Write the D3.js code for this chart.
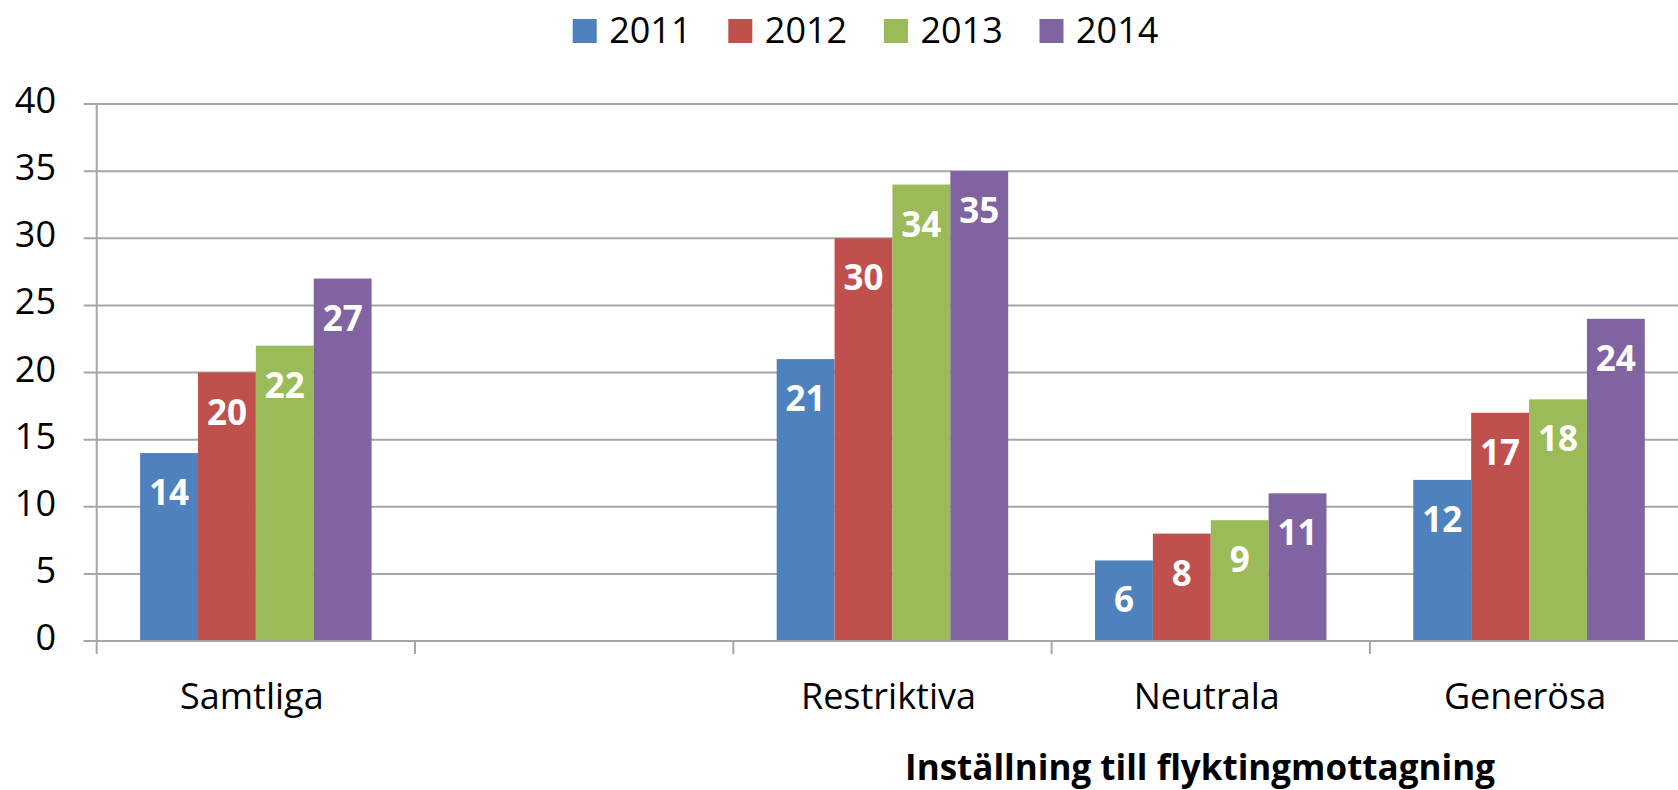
<!DOCTYPE html>
<html>
<head>
<meta charset="utf-8">
<script src="https://cdn.jsdelivr.net/npm/d3@7"></script>
<style>
  body { margin: 0; background: #fff; }
  text { font-family: "Open Sans", sans-serif; }
</style>
</head>
<body>
<div id="chart"></div>
<script>
// DATA
const categories = ["Samtliga", "", "Restriktiva", "Neutrala", "Generösa"];
const years = ["2011", "2012", "2013", "2014"];
const v2011 = [14, null, 21, 6, 12];
const v2012 = [20, null, 30, 8, 17];
const v2013 = [22, null, 34, 9, 18];
const v2014 = [27, null, 35, 11, 24];
const yTicks = [0, 5, 10, 15, 20, 25, 30, 35, 40];
const colors = ["#4f81bd", "#c0504d", "#9bbb59", "#8064a2"];
const axisTitle = "Inställning till flyktingmottagning";

const seriesValues = [v2011, v2012, v2013, v2014];

// rows: one per category, one entry per year
const rows = categories.map((c, i) => ({
    cat: c,
    vals: years.map((y, j) => ({year: y, value: seriesValues[j][i], color: colors[j]}))
}));

/***** BASIC SETUP *****/
const width = 1678;
const height = 790;
const margin = {top: 104, left: 96.7, bottom: 149};

const svg = d3.select("#chart")
    .append("svg")
    .attr("width", width)
    .attr("height", height);

const catWidth = 318.3;

/***** SCALES *****/
const x = d3.scaleBand()
    .domain(categories.map((c, i) => i))
    .range([margin.left, margin.left + catWidth * categories.length]);

// gap width 150% of a bar -> bars take 4/(4+1.5) of the band
const xInner = d3.scaleBand()
    .domain(years)
    .range([catWidth * 1.5 / 11, catWidth - catWidth * 1.5 / 11]);

const y = d3.scaleLinear()
    .domain([0, 40])
    .range([641, 104]);

const gridColor = "#a6a6a6";

/***** GRID + AXES *****/
svg.append("g")
    .selectAll("line")
    .data(yTicks)
    .join("line")
    .attr("x1", margin.left - 13)
    .attr("x2", width)
    .attr("y1", d => y(d))
    .attr("y2", d => y(d))
    .attr("stroke", gridColor)
    .attr("stroke-width", 2);

svg.append("g")
    .selectAll("text")
    .data(yTicks)
    .join("text")
    .attr("x", 56)
    .attr("y", d => y(d) + 9)
    .attr("text-anchor", "end")
    .attr("font-size", 36)
    .attr("fill", "#000")
    .text(d => d);

// y axis line
svg.append("line")
    .attr("x1", margin.left).attr("x2", margin.left)
    .attr("y1", y(40)).attr("y2", y(0) + 13)
    .attr("stroke", gridColor)
    .attr("stroke-width", 2);

// category boundary ticks
svg.append("g")
    .selectAll("line")
    .data(categories.slice(1).map((c, i) => i + 1))
    .join("line")
    .attr("x1", d => x(d)).attr("x2", d => x(d))
    .attr("y1", y(0)).attr("y2", y(0) + 13)
    .attr("stroke", gridColor)
    .attr("stroke-width", 2);

/***** BARS *****/
const groups = svg.append("g")
    .selectAll("g")
    .data(rows.map((r, i) => ({...r, idx: i})))
    .join("g")
    .attr("transform", d => `translate(${x(d.idx)},0)`);

const valid = d => d.vals.filter(v => v.value != null);

groups.selectAll("rect")
    .data(valid)
    .join("rect")
    .attr("x", d => xInner(d.year))
    .attr("width", xInner.bandwidth())
    .attr("y", d => y(d.value))
    .attr("height", d => y(0) - y(d.value))
    .attr("fill", d => d.color);

groups.selectAll("text.lbl")
    .data(valid)
    .join("text")
    .attr("class", "lbl")
    .attr("x", d => xInner(d.year) + xInner.bandwidth() / 2)
    .attr("y", d => y(d.value) + 52)
    .attr("text-anchor", "middle")
    .attr("font-size", 35)
    .attr("font-weight", "bold")
    .attr("fill", "#fff")
    .text(d => d.value);

// baseline on top of bars
svg.append("line")
    .attr("x1", margin.left - 13).attr("x2", width)
    .attr("y1", y(0)).attr("y2", y(0))
    .attr("stroke", gridColor)
    .attr("stroke-width", 2);

/***** CATEGORY LABELS *****/
svg.append("g")
    .selectAll("text")
    .data(categories.map((c, i) => ({c, i})))
    .join("text")
    .attr("x", d => x(d.i) + catWidth / 2 - 4)
    .attr("y", 709)
    .attr("text-anchor", "middle")
    .attr("font-size", 36)
    .attr("fill", "#000")
    .text(d => d.c);

svg.append("text")
    .attr("x", 1200)
    .attr("y", 780)
    .attr("text-anchor", "middle")
    .attr("font-size", 35)
    .attr("font-weight", "bold")
    .attr("fill", "#000")
    .text(axisTitle);

/***** LEGEND *****/
const legend = svg.append("g")
    .selectAll("g")
    .data(years)
    .join("g")
    .attr("transform", (d, i) => `translate(${572.7 + i * 155.6},19)`);

legend.append("rect")
    .attr("width", 24)
    .attr("height", 24)
    .attr("fill", (d, i) => colors[i]);

legend.append("text")
    .attr("x", 36.5)
    .attr("y", 24)
    .attr("font-size", 36)
    .attr("fill", "#000")
    .text(d => d);
</script>
</body>
</html>
